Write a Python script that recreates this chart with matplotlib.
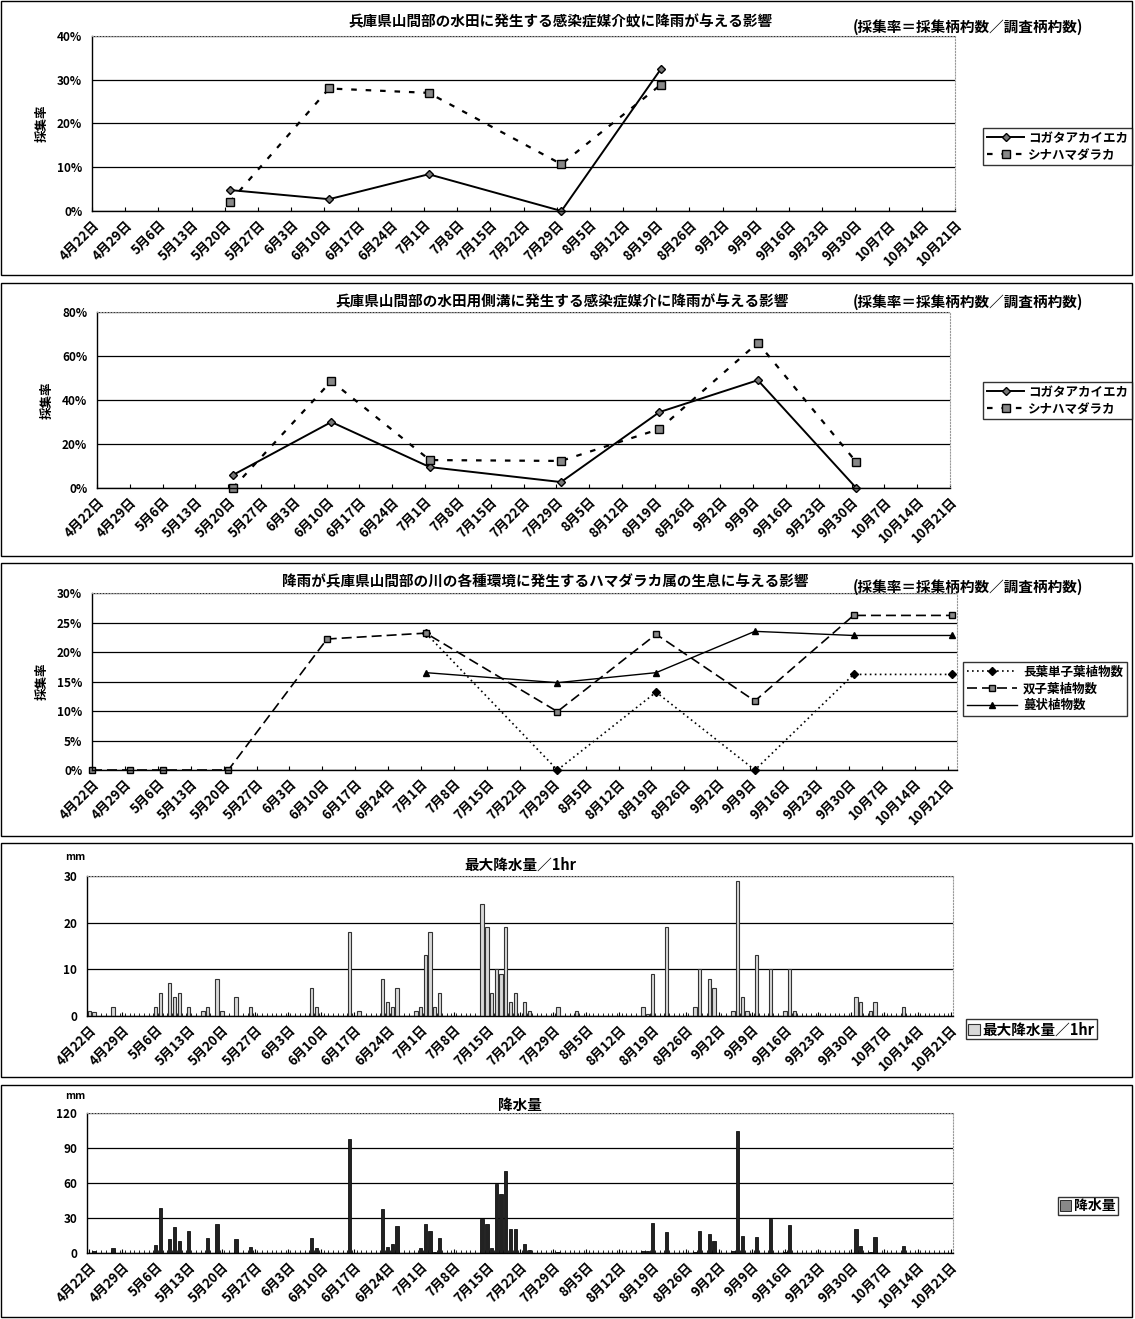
import matplotlib
matplotlib.use("Agg")
import matplotlib.pyplot as plt
import matplotlib.transforms as mtransforms
from matplotlib.patches import Rectangle
from datetime import date

plt.rcParams['font.family'] = ['Noto Sans CJK JP', 'DejaVu Sans']
plt.rcParams['font.weight'] = 'bold'

W, H = 1135, 1319

# ---- data ----
tick_labels = ['4月22日', '4月29日', '5月6日', '5月13日', '5月20日', '5月27日', '6月3日',
               '6月10日', '6月17日', '6月24日', '7月1日', '7月8日', '7月15日', '7月22日',
               '7月29日', '8月5日', '8月12日', '8月19日', '8月26日', '9月2日', '9月9日',
               '9月16日', '9月23日', '9月30日', '10月7日', '10月14日', '10月21日']

# panel 1 : paddy field
p1_dates = ['5/21', '6/11', '7/2', '7/30', '8/20']
p1_kogata = [4.8, 2.7, 8.4, 0.0, 32.5]
p1_shina = [2.0, 28.0, 27.0, 10.7, 28.9]

# panel 2 : side ditch
p2_dates = ['5/21', '6/11', '7/2', '7/30', '8/20', '9/10', '10/1']
p2_kogata = [5.9, 30.0, 9.5, 2.7, 34.5, 49.0, 0.0]
p2_shina = [0.0, 48.6, 12.7, 12.3, 26.8, 66.0, 11.8]

# panel 3 : river environments
p3_dates = ['4/22', '4/30', '5/7', '5/21', '6/11', '7/2', '7/30', '8/20', '9/10', '10/1', '10/22']
p3_mono = [None, None, None, None, None, 23.2, 0.0, 13.2, 0.0, 16.2, 16.2]
p3_dicot = [0.0, 0.0, 0.0, 0.0, 22.2, 23.2, 9.9, 23.0, 11.7, 26.2, 26.2]
p3_vine = [None, None, None, None, None, 16.5, 14.8, 16.5, 23.5, 22.8, 22.8]

# panel 4 : max rainfall per hour (mm)
maxrain_dates = ['4/22', '4/23', '4/27', '5/6', '5/7', '5/9', '5/10', '5/11', '5/13', '5/16',
                 '5/17', '5/19', '5/20', '5/23', '5/26', '6/8', '6/9', '6/16', '6/18', '6/23',
                 '6/24', '6/25', '6/26', '6/30', '7/1', '7/2', '7/3', '7/4', '7/5', '7/14',
                 '7/15', '7/16', '7/17', '7/18', '7/19', '7/20', '7/21', '7/23', '7/24', '7/30',
                 '8/3', '8/17', '8/18', '8/19', '8/22', '8/28', '8/29', '8/31', '9/1', '9/5',
                 '9/6', '9/7', '9/8', '9/10', '9/13', '9/16', '9/17', '9/18', '10/1', '10/2',
                 '10/4', '10/5', '10/11']
maxrain_vals = [1, 0.8, 2, 2, 5, 7, 4, 5, 2, 1,
                2, 8, 1, 4, 2, 6, 2, 18, 1, 8,
                3, 2, 6, 1, 2, 13, 18, 2, 5, 24,
                19, 5, 10, 9, 19, 3, 5, 3, 1, 2,
                1, 2, 0.5, 9, 19, 2, 10, 8, 6, 1,
                29, 4, 1, 13, 10, 1, 10, 1, 4, 3,
                1, 3, 2]

# panel 5 : daily rainfall (mm)
rain_dates = ['4/23', '4/27', '5/6', '5/7', '5/9', '5/10', '5/11', '5/13', '5/17', '5/19',
              '5/23', '5/26', '6/8', '6/9', '6/16', '6/23', '6/24', '6/25', '6/26', '7/1',
              '7/2', '7/3', '7/4', '7/5', '7/14', '7/15', '7/16', '7/17', '7/18', '7/19',
              '7/20', '7/21', '7/23', '7/24', '7/30', '8/17', '8/18', '8/19', '8/22', '8/28',
              '8/29', '8/31', '9/1', '9/5', '9/6', '9/7', '9/10', '9/13', '9/16', '9/17',
              '10/1', '10/2', '10/4', '10/5', '10/11']
rain_vals = [2, 4, 7, 39, 12, 22, 10, 19, 13, 25,
             12, 5, 13, 4, 98, 38, 5, 8, 23, 4,
             25, 19, 1, 13, 29, 25, 4, 59, 51, 70,
             21, 21, 8, 3, 1, 2, 2, 26, 18, 1,
             19, 16, 10, 2, 105, 15, 14, 29, 1, 24,
             21, 6, 1, 14, 6]


def day(s):
    m, d = s.split('/')
    return (date(2000, int(m), int(d)) - date(2000, 4, 22)).days


def rect(x0, y0, x1, y1):
    return [x0 / W, 1 - y1 / H, (x1 - x0) / W, (y1 - y0) / H]


fig = plt.figure(figsize=(W / 100, H / 100), dpi=100)

# panel frames
for (y0, y1) in [(1, 275), (283, 556), (563, 836), (843, 1077), (1085, 1317)]:
    fig.patches.append(Rectangle((1 / W, 1 - y1 / H), 1131 / W, (y1 - y0) / H,
                                 transform=fig.transFigure, fill=False, ec='black', lw=1))

tick_pos = [7 * i for i in range(len(tick_labels))]
sub = '(採集率＝採集柄杓数／調査柄杓数)'
shift = mtransforms.ScaledTranslation(-0.07, -0.03, fig.dpi_scale_trans)


def style_axes(ax, xmax, bars=False):
    for s in ['top', 'right']:
        ax.spines[s].set_color('#999999')
        ax.spines[s].set_linestyle(':')
        ax.spines[s].set_linewidth(0.8)
    for s in ['left', 'bottom']:
        ax.spines[s].set_color('black')
        ax.spines[s].set_linewidth(1.0)
    ax.yaxis.grid(True, color='black', lw=0.9)
    ax.set_axisbelow(True)
    ax.set_xticks(tick_pos)
    ax.set_xticklabels(tick_labels, rotation=45, ha='right', va='top',
                       rotation_mode='anchor', fontsize=9.5, fontweight='bold')
    for lbl in ax.get_xticklabels():
        lbl.set_transform(lbl.get_transform() + shift)
    ax.tick_params(axis='x', direction='in', length=3, pad=5)
    ax.tick_params(axis='y', length=0, labelsize=8.5, pad=7)
    if bars:
        ax.set_xticks([d + 0.5 for d in range(int(xmax))], minor=True)
        ax.tick_params(axis='x', which='minor', direction='in', length=2.5)
        ax.set_xlim(-0.5, xmax)
    else:
        ax.set_xlim(0, xmax)


def pct(ax):
    ax.set_yticklabels([f'{int(t)}%' for t in ax.get_yticks()], fontweight='bold')


title_fs = 10.5

# ---- panel 1 ----
ax1 = fig.add_axes(rect(92, 36, 955, 211))
style_axes(ax1, 182)
ax1.set_ylim(0, 40)
ax1.set_yticks([0, 10, 20, 30, 40])
pct(ax1)
ax1.plot([day(s) for s in p1_dates], p1_kogata, color='black', lw=1.4, marker='D', ms=4.5,
         mfc='#777777', mec='black', label='コガタアカイエカ', clip_on=False)
ax1.plot([day(s) for s in p1_dates], p1_shina, color='black', lw=1.6, dashes=(2.5, 4),
         marker='s', ms=5.5, mfc='#888888', mec='black', label='シナハマダラカ', clip_on=False)
ax1.set_ylabel('採集率', fontsize=9, fontweight='bold', labelpad=6)
fig.text(560 / W, 1 - 21 / H, '兵庫県山間部の水田に発生する感染症媒介蚊に降雨が与える影響',
         ha='center', va='center', fontsize=title_fs, fontweight='bold')
fig.text(968 / W, 1 - 27 / H, sub, ha='center', va='center', fontsize=title_fs, fontweight='bold')
fig.legend(handles=ax1.get_lines(), loc='upper left', bbox_to_anchor=(983 / W, 1 - 128 / H),
           fontsize=9, frameon=True, fancybox=False, edgecolor='black', handlelength=3,
           borderpad=0.3, labelspacing=0.3, handletextpad=0.3, borderaxespad=0)

# ---- panel 2 ----
ax2 = fig.add_axes(rect(97, 312, 950, 488))
style_axes(ax2, 182)
ax2.set_ylim(0, 80)
ax2.set_yticks([0, 20, 40, 60, 80])
pct(ax2)
ax2.plot([day(s) for s in p2_dates], p2_kogata, color='black', lw=1.4, marker='D', ms=4.5,
         mfc='#777777', mec='black', label='コガタアカイエカ', clip_on=False)
ax2.plot([day(s) for s in p2_dates], p2_shina, color='black', lw=1.6, dashes=(2.5, 4),
         marker='s', ms=5.5, mfc='#888888', mec='black', label='シナハマダラカ', clip_on=False)
ax2.set_ylabel('採集率', fontsize=9, fontweight='bold', labelpad=6)
fig.text(562 / W, 1 - 301 / H, '兵庫県山間部の水田用側溝に発生する感染症媒介に降雨が与える影響',
         ha='center', va='center', fontsize=title_fs, fontweight='bold')
fig.text(968 / W, 1 - 302 / H, sub, ha='center', va='center', fontsize=title_fs, fontweight='bold')
fig.legend(handles=ax2.get_lines(), loc='upper left', bbox_to_anchor=(983 / W, 1 - 382 / H),
           fontsize=9, frameon=True, fancybox=False, edgecolor='black', handlelength=3,
           borderpad=0.3, labelspacing=0.3, handletextpad=0.3, borderaxespad=0)

# ---- panel 3 ----
ax3 = fig.add_axes(rect(92, 593, 957, 770))
style_axes(ax3, 184)
ax3.set_ylim(0, 30)
ax3.set_yticks([0, 5, 10, 15, 20, 25, 30])
pct(ax3)
d3 = [day(s) for s in p3_dates]
ax3.plot(d3, [v if v is not None else float('nan') for v in p3_mono], color='black', lw=1.2,
         dashes=(1, 2), marker='D', ms=4, mfc='black', label='長葉単子葉植物数', clip_on=False)
ax3.plot(d3, p3_dicot, color='black', lw=1.2, dashes=(6, 3), marker='s', ms=4,
         mfc='#888888', mec='black', label='双子葉植物数', clip_on=False)
ax3.plot(d3, [v if v is not None else float('nan') for v in p3_vine], color='black', lw=1.0,
         marker='^', ms=5, mfc='black', label='蔓状植物数', clip_on=False)
ax3.set_ylabel('採集率', fontsize=9, fontweight='bold', labelpad=6)
fig.text(545 / W, 1 - 581 / H, '降雨が兵庫県山間部の川の各種環境に発生するハマダラカ属の生息に与える影響',
         ha='center', va='center', fontsize=title_fs, fontweight='bold')
fig.text(968 / W, 1 - 587 / H, sub, ha='center', va='center', fontsize=title_fs, fontweight='bold')
fig.legend(handles=ax3.get_lines(), loc='upper left', bbox_to_anchor=(963 / W, 1 - 662 / H),
           fontsize=9, frameon=True, fancybox=False, edgecolor='black', handlelength=4,
           borderpad=0.3, labelspacing=0.3, handletextpad=0.5, borderaxespad=0)

# ---- panel 4 ----
ax4 = fig.add_axes(rect(87, 876, 953, 1016))
style_axes(ax4, 182.5, bars=True)
ax4.set_ylim(0, 30)
ax4.set_yticks([0, 10, 20, 30])
ax4.set_yticklabels(['0', '10', '20', '30'], fontweight='bold')
b4 = ax4.bar([day(s) for s in maxrain_dates], maxrain_vals, width=0.7, color='#d8d8d8',
             edgecolor='#333333', lw=0.8, label='最大降水量／1hr')
fig.text(75 / W, 1 - 857 / H, 'mm', ha='center', va='center', fontsize=7.5, fontweight='bold')
fig.text(520 / W, 1 - 865 / H, '最大降水量／1hr', ha='center', va='center', fontsize=title_fs,
         fontweight='bold')
fig.legend(handles=[b4], loc='upper left', bbox_to_anchor=(966 / W, 1 - 1019 / H),
           fontsize=10.5, frameon=True, fancybox=False, edgecolor='black', handlelength=0.8,
           handleheight=0.8, borderpad=0.15, handletextpad=0.2, borderaxespad=0)

# ---- panel 5 ----
ax5 = fig.add_axes(rect(87, 1113, 953, 1253))
style_axes(ax5, 182.5, bars=True)
ax5.set_ylim(0, 120)
ax5.set_yticks([0, 30, 60, 90, 120])
ax5.set_yticklabels(['0', '30', '60', '90', '120'], fontweight='bold')
b5 = ax5.bar([day(s) for s in rain_dates], rain_vals, width=0.7, color='#222222',
             edgecolor='#111111', lw=0.6, label='降水量')
fig.text(75 / W, 1 - 1096 / H, 'mm', ha='center', va='center', fontsize=7.5, fontweight='bold')
fig.text(520 / W, 1 - 1105 / H, '降水量', ha='center', va='center', fontsize=title_fs,
         fontweight='bold')
leg5 = fig.legend(handles=[b5], loc='upper left', bbox_to_anchor=(1058 / W, 1 - 1197 / H),
                  fontsize=10, frameon=True, fancybox=False, edgecolor='black', handlelength=0.8,
                  handleheight=0.8, borderpad=0.15, handletextpad=0.2, borderaxespad=0)
leg5.legend_handles[0].set_facecolor('#888888')

fig.savefig('out.png', dpi=100)
